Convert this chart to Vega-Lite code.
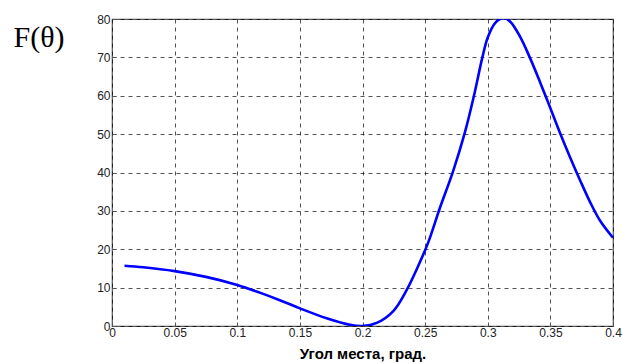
{
  "$schema": "https://vega.github.io/schema/vega-lite/v6.json",
  "autosize": {"type": "none"},
  "padding": {"left": 112, "top": 19, "right": 9, "bottom": 37},
  "width": 501,
  "height": 307,
  "background": "white",
  "config": {
    "view": {"stroke": "#555555", "strokeWidth": 1.2},
    "axis": {
      "labelFont": "Liberation Sans",
      "labelFontSize": 12,
      "labelColor": "#222222",
      "titleFont": "Liberation Sans",
      "grid": true,
      "gridColor": "#000000",
      "gridDash": [4, 4],
      "gridWidth": 0.8,
      "gridOpacity": 0.85,
      "domain": false,
      "tickColor": "#555555",
      "tickSize": -4
    }
  },
  "data": {
    "values": [
      {"x": 0.01, "y": 15.7},
      {"x": 0.025, "y": 15.3},
      {"x": 0.05, "y": 14.3},
      {"x": 0.075, "y": 12.8},
      {"x": 0.1, "y": 10.7},
      {"x": 0.118, "y": 8.7},
      {"x": 0.135, "y": 6.6},
      {"x": 0.15, "y": 4.6},
      {"x": 0.1714, "y": 2.0},
      {"x": 0.19, "y": 0.3},
      {"x": 0.2, "y": 0.0},
      {"x": 0.2113, "y": 0.8},
      {"x": 0.2246, "y": 3.9},
      {"x": 0.2353, "y": 9.4},
      {"x": 0.2433, "y": 14.8},
      {"x": 0.2525, "y": 21.8},
      {"x": 0.2615, "y": 30.5},
      {"x": 0.2725, "y": 40.5},
      {"x": 0.2818, "y": 50.5},
      {"x": 0.289, "y": 60},
      {"x": 0.2957, "y": 70},
      {"x": 0.3, "y": 75.2},
      {"x": 0.306, "y": 79.0},
      {"x": 0.3125, "y": 80.3},
      {"x": 0.318, "y": 79.3},
      {"x": 0.3258, "y": 75.4},
      {"x": 0.3338, "y": 69.8},
      {"x": 0.3417, "y": 63.6},
      {"x": 0.3497, "y": 57.0},
      {"x": 0.3577, "y": 50.3},
      {"x": 0.3657, "y": 44.0},
      {"x": 0.3737, "y": 38.0},
      {"x": 0.3817, "y": 32.3},
      {"x": 0.3896, "y": 27.5},
      {"x": 0.4, "y": 23.0}
    ]
  },
  "mark": {"type": "line", "color": "#0000ff", "strokeWidth": 2.6, "interpolate": "catmull-rom", "clip": true},
  "encoding": {
    "x": {
      "field": "x",
      "type": "quantitative",
      "scale": {"domain": [0, 0.4], "nice": false, "zero": false},
      "axis": {
        "values": [0, 0.05, 0.1, 0.15, 0.2, 0.25, 0.3, 0.35, 0.4],
        "labelExpr": "datum.value == 0 ? '0' : format(datum.value, '.2~f')",
        "labelPadding": 5,
        "labelFlush": false,
        "title": "Угол места, град.",
        "titleFontSize": 15,
        "titleFontWeight": "bold",
        "titleColor": "#000000",
        "titleBaseline": "alphabetic",
        "titleY": 32
      }
    },
    "y": {
      "field": "y",
      "type": "quantitative",
      "scale": {"domain": [0, 80], "nice": false},
      "axis": {
        "values": [0, 10, 20, 30, 40, 50, 60, 70, 80],
        "labelPadding": 6,
        "labelFlush": false,
        "title": "F(θ)",
        "titleFont": "Liberation Serif",
        "titleFontSize": 30,
        "titleFontWeight": "normal",
        "titleColor": "#000000",
        "titleAngle": 0,
        "titleAlign": "left",
        "titleBaseline": "alphabetic",
        "titleX": -99,
        "titleY": 27
      }
    }
  }
}
